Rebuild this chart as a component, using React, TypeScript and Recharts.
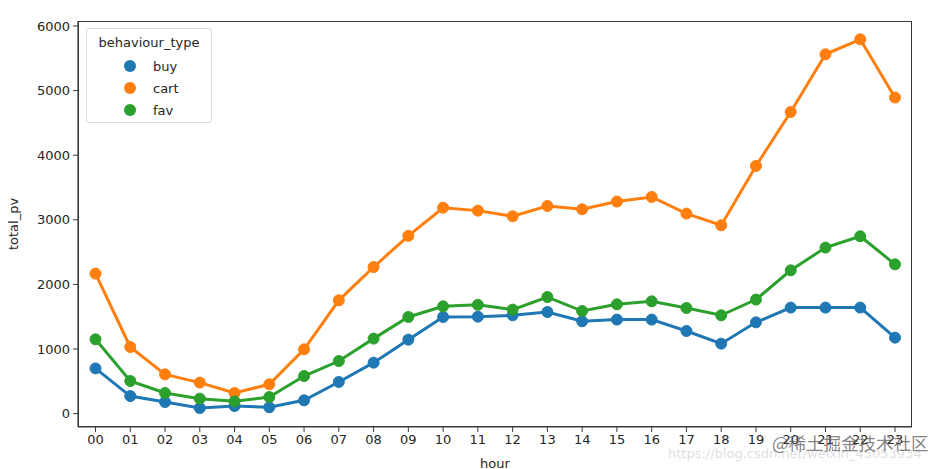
import React from 'react';
import { LineChart, Line, XAxis, YAxis } from 'recharts';

const hours = ['00', '01', '02', '03', '04', '05', '06', '07', '08', '09', '10', '11', '12', '13', '14', '15', '16', '17', '18', '19', '20', '21', '22', '23'];
const buy = [700, 272, 180, 87, 118, 98, 206, 490, 789, 1145, 1496, 1500, 1522, 1573, 1429, 1455, 1455, 1279, 1083, 1413, 1641, 1641, 1641, 1176];
const cart = [2167, 1031, 608, 480, 319, 454, 995, 1754, 2269, 2752, 3187, 3142, 3054, 3214, 3163, 3282, 3354, 3096, 2915, 3833, 4669, 5562, 5794, 4892];
const fav = [1150, 505, 319, 232, 190, 257, 582, 814, 1161, 1496, 1661, 1684, 1610, 1805, 1588, 1692, 1738, 1635, 1522, 1765, 2218, 2570, 2745, 2311];
const yTicks = [0, 1000, 2000, 3000, 4000, 5000, 6000];

const series = [
  { key: 'buy', color: '#1f77b4' },
  { key: 'cart', color: '#ff7f0e' },
  { key: 'fav', color: '#2ca02c' },
];

const data = hours.map((h, i) => ({ hour: h, buy: buy[i], cart: cart[i], fav: fav[i] }));

const FONT = '"DejaVu Sans", sans-serif';
const TEXT = '#262626';
const AXIS = '#3a3a3a';

// plot box (matches the chart margins below)
const PLOT = { left: 78, top: 21, width: 834, height: 406 };

const LegendBox = () => (
  <div
    style={{
      position: 'absolute',
      left: 86,
      top: 28,
      border: '1px solid #dcdcdc',
      borderRadius: 3,
      background: 'rgba(255,255,255,0.8)',
      width: 126,
      height: 95,
      boxSizing: 'border-box',
      fontFamily: FONT,
      fontSize: 13,
      color: TEXT,
      paddingTop: 4,
    }}
  >
    <div style={{ textAlign: 'center', height: 22, lineHeight: '20px' }}>behaviour_type</div>
    {series.map((s) => (
      <div key={s.key} style={{ display: 'flex', alignItems: 'center', height: 22 }}>
        <span
          style={{
            display: 'inline-block',
            width: 12,
            height: 12,
            borderRadius: 6,
            background: s.color,
            marginLeft: 37,
            marginRight: 17,
          }}
        />
        <span>{s.key}</span>
      </div>
    ))}
  </div>
);

export default function App() {
  return (
    <div style={{ position: 'absolute', left: 0, top: 0, width: 947, height: 469, background: '#fff', overflow: 'hidden' }}>
      <LineChart width={947} height={469} data={data} margin={{ top: 21, right: 35, left: 0, bottom: 0 }}>
        <XAxis
          dataKey="hour"
          padding={{ left: 17.5, right: 17 }}
          height={42}
          tickSize={5}
          tickMargin={3}
          tick={{ fill: TEXT, fontSize: 13, fontFamily: FONT }}
          axisLine={{ stroke: AXIS, strokeWidth: 1.2 }}
          tickLine={{ stroke: AXIS }}
          interval={0}
          label={{ value: 'hour', position: 'insideBottom', offset: 1, fill: TEXT, fontSize: 13, fontFamily: FONT }}
        />
        <YAxis
          width={78}
          domain={[-207, 6077]}
          ticks={yTicks}
          allowDataOverflow
          tickSize={5}
          tickMargin={3}
          tick={{ fill: TEXT, fontSize: 13, fontFamily: FONT }}
          axisLine={{ stroke: AXIS, strokeWidth: 1.2 }}
          tickLine={{ stroke: AXIS }}
          label={{ value: 'total_pv', angle: -90, position: 'insideLeft', offset: 13, fill: TEXT, fontSize: 13, fontFamily: FONT, style: { textAnchor: 'middle' } }}
        />
        {series.map((s) => (
          <Line
            key={s.key}
            dataKey={s.key}
            type="linear"
            stroke={s.color}
            strokeWidth={3}
            dot={{ r: 5.5, fill: s.color, stroke: s.color, strokeWidth: 1 }}
            activeDot={false}
            isAnimationActive={false}
          />
        ))}
      </LineChart>
      <div
        style={{
          position: 'absolute',
          left: PLOT.left,
          top: PLOT.top,
          width: PLOT.width,
          height: PLOT.height,
          border: `1.2px solid ${AXIS}`,
          boxSizing: 'border-box',
          pointerEvents: 'none',
        }}
      />
      <LegendBox />
      <div
        style={{
          position: 'absolute',
          left: 668,
          top: 446,
          fontFamily: FONT,
          fontSize: 13,
          color: 'rgba(180,180,180,0.45)',
          whiteSpace: 'nowrap',
        }}
      >
        https://blog.csdn.net/weixin_45053934
      </div>
      <div
        style={{
          position: 'absolute',
          left: 772,
          top: 430,
          fontFamily: '"Noto Sans CJK SC", sans-serif',
          fontSize: 17.5,
          color: 'rgba(90,90,90,0.75)',
          whiteSpace: 'nowrap',
        }}
      >
        @稀土掘金技术社区
      </div>
    </div>
  );
}
